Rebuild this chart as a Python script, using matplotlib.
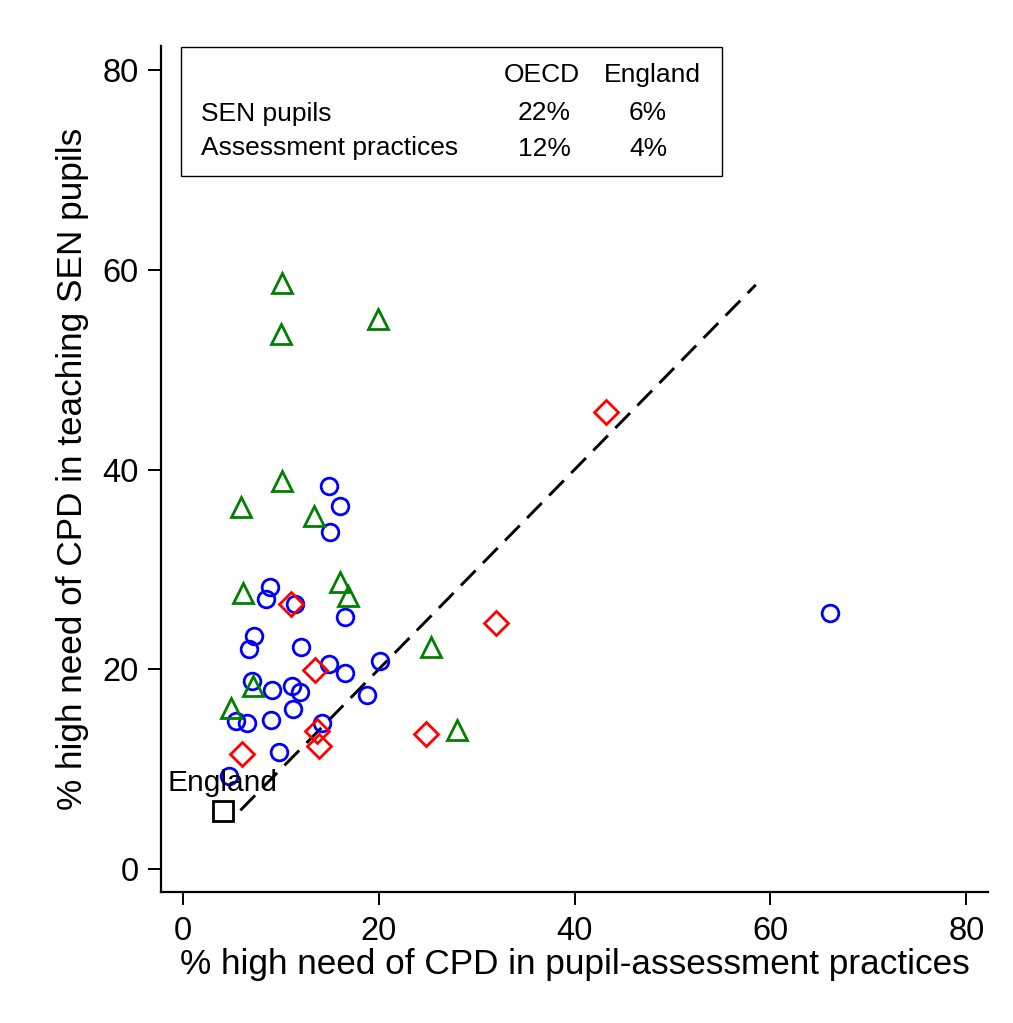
import matplotlib
matplotlib.use("Agg")
import matplotlib.pyplot as plt
from matplotlib.patches import Rectangle

plt.rcParams['font.family'] = ['Liberation Sans', 'DejaVu Sans']

# ---- data (x: % high need CPD pupil-assessment, y: % high need CPD teaching SEN) ----
circle_x = [14.97, 16.09, 15.07, 8.88, 8.47, 11.47, 16.60, 7.25, 6.80, 12.11,
            7.04, 9.09, 11.19, 12.01, 14.94, 16.60, 20.14, 18.78, 11.29, 5.47,
            6.60, 9.01, 14.25, 9.86, 4.70, 66.08]
circle_y = [38.37, 36.37, 33.76, 28.26, 27.03, 26.53, 25.26, 23.32, 22.02, 22.22,
            18.85, 17.99, 18.35, 17.75, 20.52, 19.65, 20.89, 17.42, 16.05, 14.84,
            14.68, 14.92, 14.68, 11.74, 9.31, 25.70]

triangle_x = [10.14, 10.00, 19.95, 10.17, 5.92, 13.40, 6.13, 16.03, 16.85, 7.18,
              4.96, 25.35, 27.97]
triangle_y = [58.70, 53.55, 55.10, 38.87, 36.27, 35.37, 27.70, 28.76, 27.33, 18.39,
              16.19, 22.25, 13.91]

diamond_x = [43.22, 11.06, 13.48, 32.02, 6.05, 13.68, 13.95, 24.81]
diamond_y = [45.78, 26.53, 19.99, 24.69, 11.58, 13.84, 12.31, 13.51]

england_x = [4.15]
england_y = [5.86]
england_label = "England"

diag_range = [5.9, 58.5]

xticks = [0, 20, 40, 60, 80]
yticks = [0, 20, 40, 60, 80]

table_header = ["OECD", "England"]
table_rows = ["SEN pupils", "Assessment practices"]
table_oecd = ["22%", "12%"]
table_england = ["6%", "4%"]

xlabel = "% high need of CPD in pupil-assessment practices"
ylabel = "% high need of CPD in teaching SEN pupils"

# ---- figure ----
W, H = 1013, 1023
fig = plt.figure(figsize=(W / 100, H / 100), dpi=100)
ax = fig.add_axes([161 / W, 1 - 892 / H, (988 - 161) / W, (892 - 46) / H])

ax.set_xlim(-2.2, 82.2)
ax.set_ylim(-2.27, 82.4)

blue = (0, 0, 1)
red = (1, 0, 0)
green = (0, 0.5, 0)

ax.plot(diag_range, diag_range, color='black', lw=2.1, linestyle=(0, (7.2, 3.6)), zorder=1)

mew = 2.0
ax.plot(circle_x, circle_y, linestyle='none', marker='o', markersize=12,
        markerfacecolor='none', markeredgecolor=blue, markeredgewidth=mew, zorder=2)
ax.plot(triangle_x, triangle_y, linestyle='none', marker='^', markersize=14,
        markerfacecolor='none', markeredgecolor=green, markeredgewidth=mew, zorder=2)
ax.plot(diamond_x, diamond_y, linestyle='none', marker='D', markersize=12.5,
        markerfacecolor='none', markeredgecolor=red, markeredgewidth=mew, zorder=3)
ax.plot(england_x, england_y, linestyle='none', marker='s', markersize=14.5,
        markerfacecolor='none', markeredgecolor='black', markeredgewidth=mew, zorder=3)
ax.annotate(england_label, (england_x[0], england_y[0]), xytext=(-40, 14),
            textcoords='offset points', ha='left', va='baseline', fontsize=21.5)

# axes styling
for s in ['top', 'right']:
    ax.spines[s].set_visible(False)
for s in ['left', 'bottom']:
    ax.spines[s].set_linewidth(1.6)
ax.set_xticks(xticks)
ax.set_yticks(yticks)
ax.tick_params(direction='out', length=9.5, width=1.4, labelsize=23.5)
ax.tick_params(axis='x', pad=7.5)
ax.tick_params(axis='y', pad=6.5)
ax.set_xlabel(xlabel, fontsize=25.3, labelpad=1)
ax.set_ylabel(ylabel, fontsize=25.3, labelpad=10)

# table box
box_l, box_r = (181 - 161) / 827, (722 - 161) / 827
box_b, box_t = (892 - 176) / 846, (892 - 47) / 846
ax.add_patch(Rectangle((box_l, box_b), box_r - box_l, box_t - box_b,
                       transform=ax.transAxes, fill=False, edgecolor='black',
                       linewidth=1.0, clip_on=False, zorder=5))


def ax_x(px):
    return (px - 161) / 827


def ax_y(py):
    return (892 - py) / 846


base_y = [82, 120.5, 155.5]
fs = 19
ax.text(ax_x(541.5), ax_y(base_y[0]), table_header[0], transform=ax.transAxes, ha='center', va='baseline', fontsize=fs)
ax.text(ax_x(652), ax_y(base_y[0]), table_header[1], transform=ax.transAxes, ha='center', va='baseline', fontsize=fs)
for i in range(2):
    ax.text(ax_x(201), ax_y(base_y[i + 1]), table_rows[i], transform=ax.transAxes, ha='left', va='baseline', fontsize=fs)
    ax.text(ax_x(544.5), ax_y(base_y[i + 1]), table_oecd[i], transform=ax.transAxes, ha='center', va='baseline', fontsize=fs)
    ax.text(ax_x(648), ax_y(base_y[i + 1]), table_england[i], transform=ax.transAxes, ha='center', va='baseline', fontsize=fs)

fig.savefig("out.png", dpi=100, facecolor='white')
